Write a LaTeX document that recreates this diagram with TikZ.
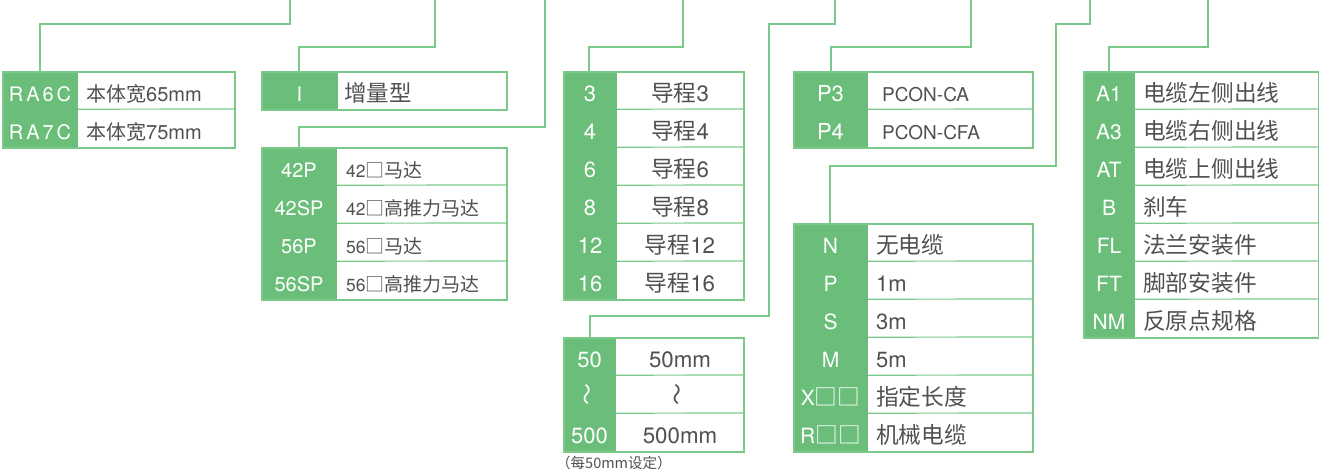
\documentclass[tikz,border=0pt]{standalone}
\usepackage{fontspec}
\usepackage{graphicx}
\setmainfont{TeX Gyre Heros}
\newfontfamily\cjk{Noto Sans CJK SC}
\definecolor{tgreen}{RGB}{106,190,121}
\definecolor{lgreen}{RGB}{124,202,138}
\definecolor{tgray}{RGB}{80,80,80}
\def\cjsz{22.5}
\newcommand{\cj}[1]{{\cjk\fontsize{\cjsz}{24}\selectfont #1}}
\newcommand{\wav}{\rotatebox{90}{\cjk\fontsize{22}{24}\selectfont ～}}
\newcommand{\spectable}[9]{%
  \foreach [count=\i] \a/\b in {#9} {
    \node[gcell, minimum width=#4pt] (#1g\i) at ({#2+#4/2},{#3+38*\i-19}) {\a};
    \node[wtext, anchor=#7] (#1w\i) at ({#6},{#3+38*\i-19}) {\b};
    \ifnum\i<#8
      \draw[wsep] (#1g\i.south west) -- (#1g\i.south east);
      \draw[gsep] (#1g\i.south east) -- ({#5},{#3+38*\i});
    \fi
  }
  \pgfmathsetmacro\tabw{#5-#2}\pgfmathsetmacro\tabh{38*#8}
  \node[tframe, minimum width=\tabw pt, minimum height=\tabh pt] (#1) at ({#2},{#3}) {};
}
\begin{document}
\begin{tikzpicture}[x=1pt,y=-1pt,
  gf/.style={font=\fontsize{#1}{24}\selectfont},
  wf/.style={font=\fontsize{#1}{24}\selectfont},
  gcell/.style={fill=tgreen, text=white, inner sep=0pt, minimum height=38pt,
    text height=22pt, text depth=0pt, gf=20},
  wtext/.style={text=tgray, inner sep=0pt, text height=22pt, text depth=0pt, wf=20},
  wsep/.style={draw=white, line width=1.2pt},
  gsep/.style={draw=lgreen, line width=1.2pt},
  tframe/.style={draw=lgreen, line width=1.5pt, inner sep=0pt, anchor=north west},
  conn/.style={draw=lgreen, line width=1.5pt},
  note/.style={text=tgray, inner sep=0pt, font=\fontsize{14.5}{16}\selectfont}]
\useasboundingbox (0,0) rectangle (1319,472);

% tables
\def\cjsz{20}
\spectable{RA}{2}{71}{76}{234}{86}{west}{2}{R\kern3pt A\kern3pt 6\kern3pt C/\cj{本体宽}65mm, R\kern3pt A\kern3pt 7\kern3pt C/\cj{本体宽}75mm}
\def\cjsz{22.5}
\spectable{IN}{261}{71}{77}{506}{344}{west}{1}{I/\cj{增量型}}
\def\cjsz{19}
\tikzset{wtext/.append style={wf=17.5}}
\spectable{MO}{261}{147}{76}{506}{346}{west}{4}{42P/42\cj{□马达}, 42SP/42\cj{□高推力马达}, 56P/56\cj{□马达}, 56SP/56\cj{□高推力马达}}
\def\cjsz{22.7}
\tikzset{wtext/.append style={wf=22.3}, gcell/.append style={gf=22}}
\spectable{LE}{563}{71}{54}{743}{680}{center}{6}{3/\cj{导程}3, 4/\cj{导程}4, 6/\cj{导程}6, 8/\cj{导程}8, 12/\cj{导程}12, 16/\cj{导程}16}
\spectable{ST}{563}{337}{53}{743}{680}{center}{3}{50/50mm, \wav/\wav, 500/500mm}
\tikzset{wtext/.append style={wf=19}}
\spectable{CT}{793}{71}{75}{1032}{882}{west}{2}{P3/PCON-CA, P4/PCON-CFA}
\tikzset{wtext/.append style={wf=22}, gcell/.append style={gf=21}}
\spectable{CB}{793}{223}{75}{1032}{876}{west}{6}{N/\cj{无电缆}, P/1m, S/3m, M/5m, X\cj{□□}/\cj{指定长度}, R\cj{□□}/\cj{机械电缆}}
\spectable{OP}{1083}{71}{52}{1318}{1143}{west}{7}{A1/\cj{电缆左侧出线}, A3/\cj{电缆右侧出线}, AT/\cj{电缆上侧出线}, B/\cj{刹车}, FL/\cj{法兰安装件}, FT/\cj{脚部安装件}, NM/\cj{反原点规格}}

\node[note, anchor=west] (nt) at (556,463) {\cjk （每50mm设定）};

% connectors
\coordinate (c1) at (290,0);  \coordinate (k1) at (40,24);
\coordinate (c2) at (435,0);  \coordinate (k2) at (299,47);
\coordinate (c3) at (545,0);  \coordinate (k3) at (299,127);
\coordinate (c4) at (683,0);  \coordinate (k4) at (589,47);
\coordinate (c5) at (835,0);  \coordinate (k5a) at (769,24); \coordinate (k5b) at (590,316);
\coordinate (c6) at (971,0);  \coordinate (k6) at (831,47);
\coordinate (c7) at (1090,0); \coordinate (k7a) at (1056,24); \coordinate (k7b) at (830,166);
\coordinate (c8) at (1208,0); \coordinate (k8) at (1109,47);

\draw[conn] (c1) |- (k1) -- (k1 |- RA.north);
\draw[conn] (c2) |- (k2) -- (k2 |- IN.north);
\draw[conn] (c3) |- (k3) -- (k3 |- MO.north);
\draw[conn] (c4) |- (k4) -- (k4 |- LE.north);
\draw[conn] (c5) |- (k5a) |- (k5b) -- (k5b |- ST.north);
\draw[conn] (c6) |- (k6) -- (k6 |- CT.north);
\draw[conn] (c7) |- (k7a) |- (k7b) -- (k7b |- CB.north);
\draw[conn] (c8) |- (k8) -- (k8 |- OP.north);
\end{tikzpicture}
\end{document}
